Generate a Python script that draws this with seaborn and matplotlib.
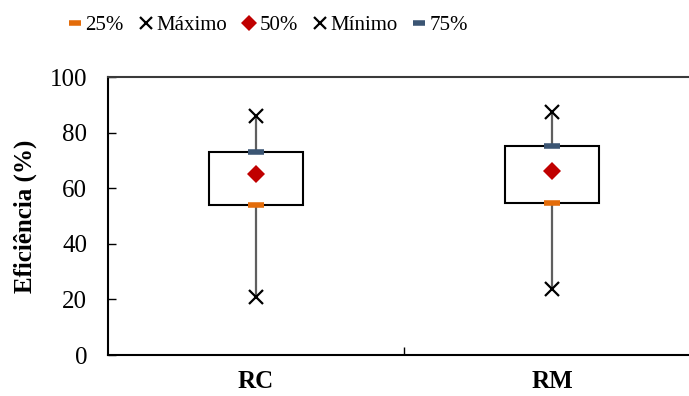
import matplotlib
matplotlib.use("Agg")
import matplotlib.pyplot as plt
from matplotlib.lines import Line2D
import numpy as np
import pandas as pd
import seaborn as sns

# resumo de cinco numeros por grupo
grupos = ["RC", "RM"]
minimo = [21.0, 23.7]
q1 = [54.0, 54.5]
mediana = [65.2, 66.3]
q3 = [73.0, 75.2]
maximo = [86.0, 87.3]

cor_q1 = "#E36C0A"
cor_q3 = "#3B5573"
cor_med = "#C00000"
cor_bigode = "#5F5F5F"

sns.set_theme(style="white")
plt.rcParams["font.family"] = ["Liberation Serif", "DejaVu Serif"]
plt.rcParams.update({"text.color": "black", "axes.labelcolor": "black",
                     "xtick.color": "black", "ytick.color": "black"})

# 5 pontos por grupo -> percentis lineares reproduzem exatamente q1/mediana/q3
df = pd.DataFrame({
    "grupo": np.repeat(grupos, 5),
    "valor": np.ravel(np.column_stack([minimo, q1, mediana, q3, maximo])),
})
df_stats = pd.DataFrame({"grupo": grupos, "minimo": minimo, "q1": q1,
                         "mediana": mediana, "q3": q3, "maximo": maximo})

fig = plt.figure(figsize=(6.89, 3.96), dpi=100)
ax = fig.add_axes([108 / 689, 1 - 355 / 396, 592 / 689, 278 / 396])

sns.boxplot(data=df, x="grupo", y="valor", order=grupos, whis=(0, 100), width=0.315,
            color="white", linecolor="black", linewidth=1.5, showcaps=False, fliersize=0,
            boxprops={"facecolor": "white", "edgecolor": "black", "linewidth": 1.5, "zorder": 2},
            whiskerprops={"color": cor_bigode, "linewidth": 1.6, "zorder": 1},
            medianprops={"linewidth": 0}, ax=ax)

marcas = [
    ("q1", "_", cor_q1, 11, 4.0),
    ("q3", "_", cor_q3, 11, 4.0),
    ("maximo", "x", "black", 10, 1.6),
    ("minimo", "x", "black", 10, 1.6),
    ("mediana", "D", cor_med, 9.5, 0),
]
for col, mk, cor, ms, mew in marcas:
    sns.pointplot(data=df_stats, x="grupo", y=col, order=grupos, linestyle="none",
                  marker=mk, color=cor, markersize=ms, markeredgewidth=mew,
                  errorbar=None, zorder=5, ax=ax)

ax.set_xlim(-0.5, 1.5)
ax.set_ylim(0, 100)
ax.set_yticks([0, 20, 40, 60, 80, 100])
ax.set_xlabel("")
ax.set_ylabel("Eficiência (%)", fontsize=18, fontweight="bold", labelpad=9)
ax.set_xticks([0, 1])
ax.set_xticklabels(grupos, fontsize=18, fontweight="bold")
ax.set_xticks([0.5], minor=True)
ax.tick_params(axis="x", which="major", length=0, pad=11)
ax.tick_params(axis="x", which="minor", direction="in", length=6, width=1, color="black", bottom=True)
ax.tick_params(axis="y", direction="in", length=6, width=1, color="black", left=True,
               labelsize=18, pad=15)

for lado in ["left", "bottom"]:
    ax.spines[lado].set_color("black")
    ax.spines[lado].set_linewidth(1.5)
ax.spines["top"].set_color("#3a3a3a")
ax.spines["top"].set_linewidth(1.5)
ax.spines["right"].set_visible(False)

handles = [
    Line2D([], [], linestyle="none", marker="_", color=cor_q1, markersize=9, markeredgewidth=4),
    Line2D([], [], linestyle="none", marker="x", color="black", markersize=9, markeredgewidth=1.6),
    Line2D([], [], linestyle="none", marker="D", color=cor_med, markersize=8, markeredgewidth=0),
    Line2D([], [], linestyle="none", marker="x", color="black", markersize=9, markeredgewidth=1.6),
    Line2D([], [], linestyle="none", marker="_", color=cor_q3, markersize=9, markeredgewidth=4),
]
rotulos = ["25%", "Máximo", "50%", "Mínimo", "75%"]
fig.legend(handles, rotulos, loc="center", bbox_to_anchor=(269 / 689, 1 - 25 / 396), ncol=5,
           frameon=False, fontsize=15, handlelength=0.5, handletextpad=0.25,
           columnspacing=0.8, borderpad=0)

fig.savefig("out.png", dpi=100)
